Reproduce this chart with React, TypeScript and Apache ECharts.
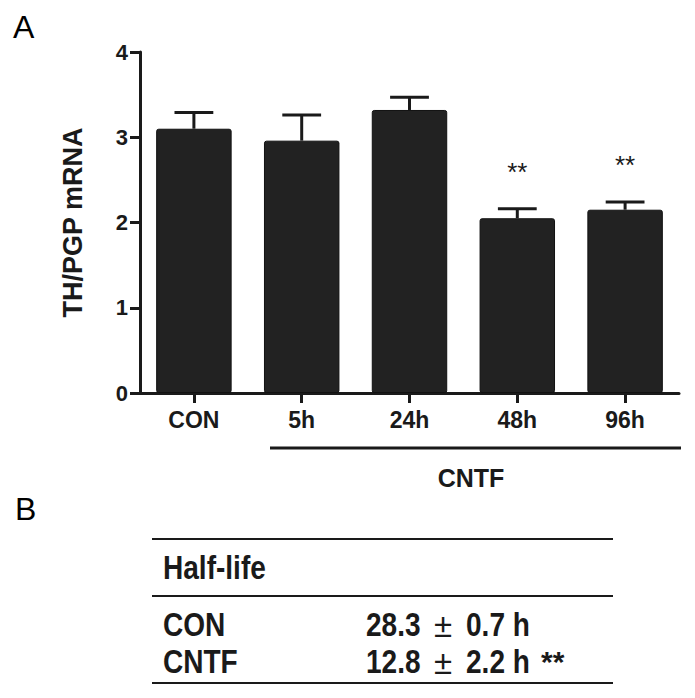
import React, { useEffect, useRef } from "react";
import * as echarts from "echarts";

const categories = ["CON", "5h", "24h", "48h", "96h"];
const means = [3.1, 2.96, 3.32, 2.05, 2.15];
const sems = [0.19, 0.3, 0.15, 0.11, 0.09];
const significance = ["", "", "", "**", "**"];
const yTicks = [0, 1, 2, 3, 4];

const tableGroups = ["CON", "CNTF"];
const halfLifeMeans = [28.3, 12.8];
const halfLifeSems = [0.7, 2.2];
const halfLifeSig = ["", "**"];

const FONT = "'Liberation Sans', Arial, Helvetica, sans-serif";
const INK = "#1a1a1a";

export default function App() {
  const ref = useRef<HTMLDivElement>(null);

  useEffect(() => {
    if (!ref.current) return;
    const chart = echarts.init(ref.current, null, { renderer: "svg" });

    const errData = means.map((m, i) => [i, m, m + sems[i]]);

    const rowY = [624, 661];
    const tableTexts: any[] = [];
    tableGroups.forEach((g, i) => {
      const y = rowY[i];
      tableTexts.push({
        type: "text", x: 163, y, scaleX: 0.85,
        style: { text: g, font: `bold 33px ${FONT}`, fill: INK, textAlign: "left", textVerticalAlign: "middle" },
      });
      tableTexts.push({
        type: "text", x: 366, y, scaleX: 0.85,
        style: { text: halfLifeMeans[i].toFixed(1), font: `bold 33px ${FONT}`, fill: INK, textAlign: "left", textVerticalAlign: "middle" },
      });
      tableTexts.push({
        type: "text", x: 443, y: y + 1,
        style: { text: "±", font: `normal 33px ${FONT}`, fill: INK, textAlign: "center", textVerticalAlign: "middle" },
      });
      tableTexts.push({
        type: "text", x: 466, y, scaleX: 0.85,
        style: { text: halfLifeSems[i].toFixed(1) + " h", font: `bold 33px ${FONT}`, fill: INK, textAlign: "left", textVerticalAlign: "middle" },
      });
      if (halfLifeSig[i]) {
        tableTexts.push({
          type: "text", x: 541, y,
          style: { text: halfLifeSig[i], font: `bold 30px ${FONT}`, fill: INK, textAlign: "left", textVerticalAlign: "middle" },
        });
      }
    });

    const option: any = {
      animation: false,
      backgroundColor: "#fff",
      grid: { left: 140, right: 16, top: 52, bottom: 305, containLabel: false },
      xAxis: {
        type: "category",
        data: categories,
        axisLine: { show: true, lineStyle: { color: INK, width: 3 } },
        axisTick: { show: true, alignWithLabel: true, length: 10, lineStyle: { color: INK, width: 3 } },
        axisLabel: { fontFamily: FONT, fontWeight: "bold", fontSize: 23, color: INK, margin: 15 },
        splitLine: { show: false },
      },
      yAxis: {
        type: "value",
        min: yTicks[0],
        max: yTicks[yTicks.length - 1],
        interval: 1,
        name: "TH/PGP mRNA",
        nameLocation: "middle",
        nameGap: 54,
        nameRotate: 90,
        nameTextStyle: { fontFamily: FONT, fontWeight: "bold", fontSize: 27, color: INK },
        axisLine: { show: true, lineStyle: { color: INK, width: 3 } },
        axisTick: { show: true, length: 10, lineStyle: { color: INK, width: 3 } },
        axisLabel: { fontFamily: FONT, fontWeight: "bold", fontSize: 22, color: INK, margin: 12 },
        splitLine: { show: false },
      },
      series: [
        {
          type: "bar",
          data: means,
          barWidth: "70%",
          itemStyle: { color: "#222", borderColor: "#111", borderWidth: 1, borderRadius: 2 },
          z: 2,
        },
        {
          type: "custom",
          data: errData,
          z: 3,
          renderItem: (params: any, api: any) => {
            const i = api.value(0);
            const top = api.coord([i, api.value(1)]);
            const up = api.coord([i, api.value(2)]);
            const half = api.size([1, 0])[0] * 0.18;
            const children: any[] = [
              { type: "line", shape: { x1: top[0], y1: top[1], x2: up[0], y2: up[1] }, style: { stroke: INK, lineWidth: 3 } },
              { type: "line", shape: { x1: up[0] - half, y1: up[1], x2: up[0] + half, y2: up[1] }, style: { stroke: INK, lineWidth: 3 } },
            ];
            const sig = significance[params.dataIndex];
            if (sig) {
              children.push({
                type: "text",
                x: up[0],
                y: up[1] - 37,
                style: { text: sig, font: `normal 26px ${FONT}`, fill: INK, textAlign: "center", textVerticalAlign: "middle" },
              });
            }
            return { type: "group", children };
          },
        },
      ],
      graphic: [
        { type: "text", x: 13, y: 27, style: { text: "A", font: `normal 32px ${FONT}`, fill: "#000", textAlign: "left", textVerticalAlign: "middle" } },
        { type: "text", x: 15, y: 509, style: { text: "B", font: `normal 32px ${FONT}`, fill: "#000", textAlign: "left", textVerticalAlign: "middle" } },
        { type: "line", shape: { x1: 270, y1: 448, x2: 681, y2: 448 }, style: { stroke: INK, lineWidth: 3 } },
        { type: "text", x: 471, y: 478, style: { text: "CNTF", font: `bold 25px ${FONT}`, fill: INK, textAlign: "center", textVerticalAlign: "middle" } },
        { type: "line", shape: { x1: 152, y1: 539, x2: 613, y2: 539 }, style: { stroke: INK, lineWidth: 2 } },
        { type: "line", shape: { x1: 152, y1: 596, x2: 613, y2: 596 }, style: { stroke: INK, lineWidth: 2 } },
        { type: "line", shape: { x1: 152, y1: 683, x2: 613, y2: 683 }, style: { stroke: INK, lineWidth: 2 } },
        {
          type: "text", x: 163, y: 567, scaleX: 0.85,
          style: { text: "Half-life", font: `bold 33px ${FONT}`, fill: INK, textAlign: "left", textVerticalAlign: "middle" },
        },
        ...tableTexts,
      ],
    };

    chart.setOption(option);
    return () => chart.dispose();
  }, []);

  return (
    <div
      ref={ref}
      style={{ position: "fixed", left: 0, top: 0, width: 695, height: 698, background: "#fff" }}
    />
  );
}
